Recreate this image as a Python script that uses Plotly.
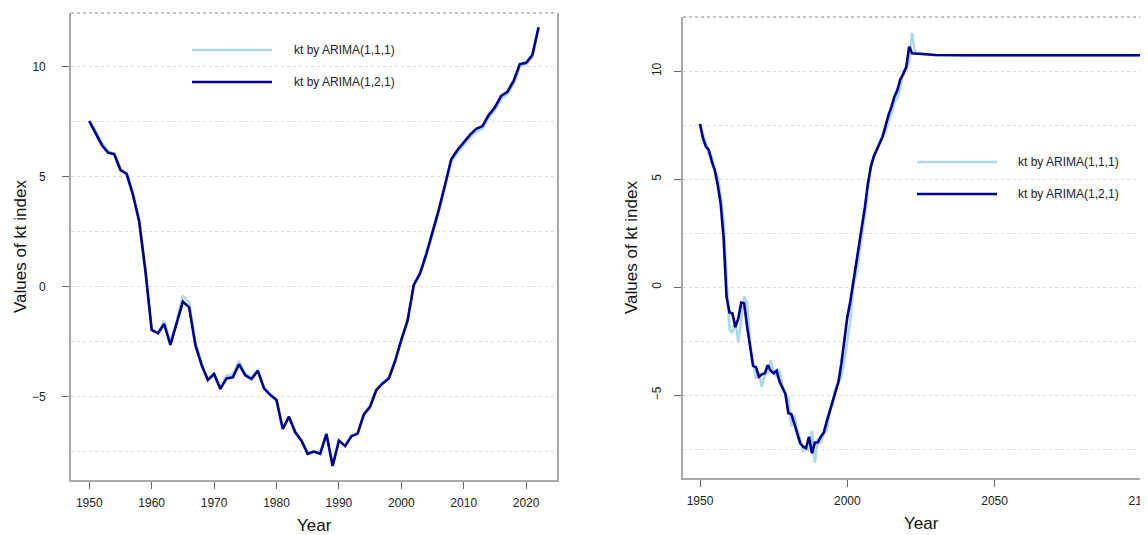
import plotly.graph_objects as go

# ---------------- data ----------------
years_obs = list(range(1950, 2023))

kt_arima_111 = [
    7.55, 7.10, 6.55, 6.15, 6.05, 5.35, 5.15, 4.25, 3.05, 0.75,
    -1.95, -2.12, -1.55, -2.55, -1.55, -0.42, -0.72, -2.55, -3.50, -4.22,
    -3.95, -4.60, -4.05, -3.98, -3.38, -3.95, -4.15, -3.82, -4.60, -4.92,
    -5.15, -6.45, -5.92, -6.60, -7.00, -7.58, -7.47, -7.58, -6.65, -8.12,
    -7.00, -7.22, -6.78, -6.65, -5.80, -5.42, -4.70, -4.40, -4.17, -3.40,
    -2.45, -1.58, 0.05, 0.55, 1.42, 2.35, 3.40, 4.52, 5.68, 6.08,
    6.42, 6.78, 7.05, 7.18, 7.68, 8.02, 8.55, 8.75, 9.22, 10.02,
    10.10, 10.42, 11.77,
]

kt_arima_121 = [
    7.52, 6.97, 6.44, 6.09, 6.02, 5.30, 5.12, 4.17, 2.95, 0.70,
    -1.97, -2.12, -1.70, -2.65, -1.67, -0.68, -0.94, -2.65, -3.56, -4.24,
    -3.97, -4.65, -4.17, -4.12, -3.53, -4.03, -4.20, -3.82, -4.62, -4.92,
    -5.15, -6.47, -5.91, -6.62, -7.00, -7.60, -7.50, -7.60, -6.70, -8.15,
    -7.00, -7.25, -6.80, -6.68, -5.81, -5.46, -4.70, -4.40, -4.17, -3.38,
    -2.42, -1.55, 0.08, 0.60, 1.48, 2.43, 3.49, 4.62, 5.79, 6.21,
    6.55, 6.90, 7.17, 7.30, 7.80, 8.15, 8.67, 8.86, 9.35, 10.12,
    10.18, 10.53, 11.79,
]

# right panel: fitted + forecast to 2100
years_fc = [2023, 2024, 2025, 2026, 2027, 2028, 2029, 2030,
            2040, 2050, 2060, 2070, 2080, 2090, 2100]

kt_111_fc = [10.85, 10.83, 10.81, 10.79, 10.77, 10.76, 10.75, 10.74,
             10.73, 10.73, 10.73, 10.73, 10.73, 10.73, 10.73]

kt_121_fit = [
    7.56, 6.90, 6.51, 6.36, 5.82, 5.43, 4.74, 3.89, 2.30, -0.43,
    -1.17, -1.21, -1.85, -1.44, -0.71, -0.74, -1.82, -2.75, -3.64, -3.70,
    -4.14, -4.03, -3.98, -3.61, -3.86, -3.98, -3.86, -4.37, -4.68, -4.94,
    -5.83, -5.87, -6.30, -6.76, -7.22, -7.38, -7.45, -6.92, -7.69, -7.19,
    -7.19, -6.92, -6.73, -6.22, -5.76, -5.19, -4.72, -4.37, -3.52, -2.44,
    -1.39, -0.67, 0.19, 1.14, 1.90, 2.65, 3.73, 4.81, 5.58, 6.05,
    6.39, 6.67, 6.97, 7.51, 7.98, 8.36, 8.82, 9.13, 9.63, 9.86,
    10.19, 11.14, 10.83,
]
kt_121_fc = [10.82, 10.81, 10.80, 10.79, 10.78, 10.77, 10.76, 10.75,
             10.74, 10.74, 10.74, 10.74, 10.74, 10.74, 10.74]

labels = ["kt by ARIMA(1,1,1)", "kt by ARIMA(1,2,1)"]
left_xticks = [1950, 1960, 1970, 1980, 1990, 2000, 2010, 2020]
right_xticks = [1950, 2000, 2050, 2100]
yticks = [-5, 0, 5, 10]
minor_grid = [-7.5, -2.5, 2.5, 7.5]

LIGHT = "#ADD8E6"
DARK = "#00008B"
OFF = 8                      # page body margin
W, H = 1148 - OFF, 535 - OFF
FONT = "Liberation Sans, Arial, sans-serif"


def px(x):
    return (x - OFF) / W


def py(y):
    return 1 - (y - OFF) / H


fig = go.Figure()

fig.add_trace(go.Scatter(x=years_obs, y=kt_arima_111, mode="lines",
                         line=dict(color=LIGHT, width=2.6), xaxis="x", yaxis="y",
                         name=labels[0], showlegend=False))
fig.add_trace(go.Scatter(x=years_obs, y=kt_arima_121, mode="lines",
                         line=dict(color=DARK, width=2.6), xaxis="x", yaxis="y",
                         name=labels[1], showlegend=False))

fig.add_trace(go.Scatter(x=years_obs + years_fc, y=kt_arima_111 + kt_111_fc, mode="lines",
                         line=dict(color=LIGHT, width=2.6), xaxis="x2", yaxis="y2",
                         name=labels[0], showlegend=False))
fig.add_trace(go.Scatter(x=years_obs + years_fc, y=kt_121_fit + kt_121_fc, mode="lines",
                         line=dict(color=DARK, width=2.6), xaxis="x2", yaxis="y2",
                         name=labels[1], showlegend=False))

axis_common = dict(
    showline=True, linecolor="#a8a8a8", linewidth=1.6,
    ticks="outside", ticklen=7, tickwidth=1.4, tickcolor="#666666",
    tickfont=dict(family=FONT, size=12, color="#222222"),
    zeroline=False, automargin=False,
)
grid = dict(showgrid=True, gridcolor="#dcdcdc", griddash="dot", gridwidth=1)

fig.update_layout(
    width=W, height=H,
    margin=dict(l=0, r=0, t=0, b=0),
    template="none",
    paper_bgcolor="white", plot_bgcolor="white",
    xaxis=dict(domain=[px(71), px(557)], range=[1947.07, 2024.95], tickvals=left_xticks,
               anchor="y", showgrid=False, ticklabelstandoff=4, **axis_common),
    yaxis=dict(domain=[py(480), py(13)], range=[-8.79, 12.44], tickvals=yticks,
               anchor="x", mirror=True, ticklabelstandoff=14,
               minor=dict(tickvals=minor_grid, ticks="", **grid), **grid, **axis_common),
    xaxis2=dict(domain=[px(683), 1.0], range=[1944.23, 2102.07], tickvals=right_xticks,
                anchor="y2", showgrid=False, ticklabelstandoff=4,
                ticklabeloverflow="allow", **axis_common),
    yaxis2=dict(domain=[py(478), py(17)], range=[-8.83, 12.51], tickvals=yticks,
                anchor="x2", tickangle=-90, ticklabelstandoff=8,
                minor=dict(tickvals=minor_grid, ticks="", **grid), **grid, **axis_common),
)

shapes = []
annotations = []
# dotted top borders
for xr, yr in (("x domain", "y domain"), ("x2 domain", "y2 domain")):
    shapes.append(dict(type="line", xref=xr, yref=yr, x0=0, x1=1, y0=1, y1=1,
                       line=dict(color="#8a8a8a", width=1, dash="dot")))


# manual legends
def legend(x0, x1, xt, ys):
    for lab, col, yy in zip(labels, (LIGHT, DARK), ys):
        shapes.append(dict(type="line", xref="paper", yref="paper",
                           x0=px(x0), x1=px(x1), y0=py(yy), y1=py(yy),
                           line=dict(color=col, width=2.6)))
        annotations.append(dict(text=lab, xref="paper", yref="paper", x=px(xt), y=py(yy),
                                xanchor="left", yanchor="middle", showarrow=False,
                                font=dict(family=FONT, size=12, color="#222222")))


legend(192, 272, 292, (50, 82))
legend(917, 997, 1016, (162, 194))

# axis titles
title_font = dict(family=FONT, size=17, color="#111111")
for x, y in ((314, 525), (921, 523)):
    annotations.append(dict(text="Year", xref="paper", yref="paper", x=px(x), y=py(y),
                            xanchor="center", yanchor="middle", showarrow=False, font=title_font))
for x, y in ((20, 247), (632, 248)):
    annotations.append(dict(text="Values of kt index", xref="paper", yref="paper",
                            x=px(x), y=py(y), textangle=-90,
                            xanchor="center", yanchor="middle", showarrow=False, font=title_font))

fig.update_layout(shapes=shapes, annotations=annotations)
fig.write_html("out.html")
